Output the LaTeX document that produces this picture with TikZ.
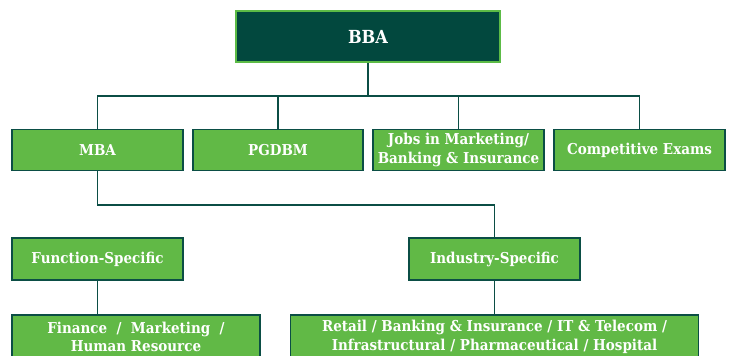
\documentclass[tikz,border=0pt]{standalone}
\usepackage{fontspec}
\setmainfont{DejaVu Serif}[FakeStretch=0.9]
\definecolor{dkgreen}{HTML}{02483E}
\definecolor{lngreen}{HTML}{0B4E45}
\definecolor{boxgreen}{HTML}{61B946}
\definecolor{ltborder}{HTML}{5CBB46}
\begin{document}
\begin{tikzpicture}[x=1pt,y=-1pt,
  gbox/.style={draw=lngreen,line width=1.5pt,fill=boxgreen,text=white,
    font=\bfseries\fontsize{15}{18.5}\selectfont,align=center,inner sep=0pt},
  topbox/.style={draw=ltborder,line width=2pt,fill=dkgreen,text=white,
    font=\bfseries\fontsize{18}{21}\selectfont,inner sep=0pt},
  conn/.style={draw=lngreen,line width=1.6pt}]
\useasboundingbox (0,0) rectangle (729,356);
\clip (0,0) rectangle (729,356);
\node[topbox,minimum width=264pt,minimum height=51pt] (bba) at (368,36.5) {BBA};
\node[gbox,minimum width=171pt,minimum height=41pt] (mba) at (97.5,150) {MBA};
\node[gbox,minimum width=170pt,minimum height=41pt] (pgdbm) at (278,150) {PGDBM};
\node[gbox,minimum width=171pt,minimum height=41pt] (jobs) at (458.5,150) {Jobs in Marketing/\\Banking \& Insurance};
\node[gbox,minimum width=171pt,minimum height=41pt] (comp) at (639.5,150) {Competitive Exams};
\node[gbox,minimum width=171pt,minimum height=42pt] (func) at (97.5,259) {Function-Specific};
\node[gbox,minimum width=171pt,minimum height=42pt] (ind) at (494.5,259) {Industry-Specific};
\node[gbox,minimum width=248pt,minimum height=44pt,anchor=north] (fin) at (136,314) {Finance \ / \ Marketing \ /\\Human Resource};
\node[gbox,minimum width=408pt,minimum height=44pt,anchor=north] (ret) at (494.5,314) {Retail / Banking \& Insurance / IT \& Telecom /\\Infrastructural / Pharmaceutical / Hospital};
\coordinate (h1) at (368,96);
\coordinate (h2) at (97.5,205);
\draw[conn] (bba.south) -- (h1);
\draw[conn] (mba.north) |- (h1) -| (comp.north);
\draw[conn] (pgdbm.north) -- (pgdbm.north |- h1);
\draw[conn] (jobs.north) -- (jobs.north |- h1);
\draw[conn] (mba.south) -- (h2) -| (ind.north);
\draw[conn] (func.south) -- (func.south |- fin.north);
\draw[conn] (ind.south) -- (ret.north);
\end{tikzpicture}
\end{document}
